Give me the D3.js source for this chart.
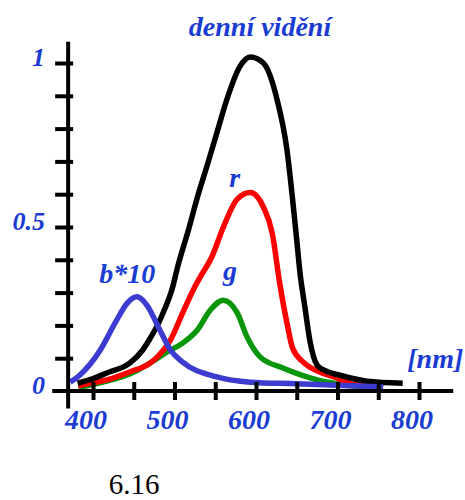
<!DOCTYPE html>
<html>
<head>
<meta charset="utf-8">
<script src="https://cdn.jsdelivr.net/npm/d3@7"></script>
<style>
  body { margin: 0; background: #fff; }
  svg { display: block; }
  .lbl { font-family: "Liberation Serif", "Times New Roman", serif; font-weight: bold; font-style: italic; fill: #1a3cd2; }
  .caption { font-family: "Liberation Serif", "Times New Roman", serif; fill: #000; }
</style>
</head>
<body>
<svg width="465" height="500"></svg>
<script>
// wavelengths [nm] and relative sensitivity
var dayNm  = [381, 400, 417, 445, 461, 470, 479, 488, 497, 504, 517, 528, 541, 553, 564, 580, 593, 609, 626, 638, 645, 650, 654, 660, 666, 675, 685, 703, 736, 780];
var dayVal = [0.024, 0.038, 0.055, 0.085, 0.125, 0.16, 0.2, 0.25, 0.31, 0.38, 0.49, 0.59, 0.695, 0.796, 0.887, 0.988, 1.018, 1.0, 0.887, 0.735, 0.582, 0.46, 0.36, 0.256, 0.155, 0.079, 0.062, 0.048, 0.03, 0.024];

var redNm  = [382, 400, 417, 445, 470, 479, 495, 510, 523, 531, 546, 560, 577, 593, 609, 620, 629, 638, 645, 658, 678, 699, 719, 756];
var redVal = [0.016, 0.025, 0.034, 0.058, 0.085, 0.104, 0.155, 0.238, 0.308, 0.345, 0.41, 0.50, 0.585, 0.605, 0.561, 0.48, 0.33, 0.207, 0.13, 0.088, 0.058, 0.04, 0.02, 0.012];

var greenNm  = [382, 400, 417, 445, 470, 491, 510, 528, 544, 560, 577, 589, 605, 633, 654, 675, 695, 720, 750];
var greenVal = [0.012, 0.02, 0.03, 0.052, 0.085, 0.119, 0.146, 0.186, 0.247, 0.277, 0.238, 0.165, 0.104, 0.07, 0.05, 0.034, 0.024, 0.015, 0.01];

var blueNm  = [372, 384, 409, 429, 442, 454, 466, 482, 495, 510, 552, 593, 650, 756];
var blueVal = [0.027, 0.049, 0.125, 0.216, 0.268, 0.287, 0.262, 0.186, 0.125, 0.088, 0.043, 0.027, 0.022, 0.012];

var xTicks = [400, 450, 500, 550, 600, 650, 700, 750, 800];
var xLabels = [400, 500, 600, 700, 800];
var yTicks = [0.1, 0.2, 0.3, 0.4, 0.5, 0.6, 0.7, 0.8, 0.9, 1];
var yLabels = [{v: 0, t: "0"}, {v: 0.5, t: "0.5"}, {v: 1, t: "1"}];

// drawing order: green, red, black, blue on top
var series = [
  {nm: greenNm, val: greenVal, color: "#0a960a"},
  {nm: redNm,   val: redVal,   color: "#ff0000"},
  {nm: dayNm,   val: dayVal,   color: "#000000"},
  {nm: blueNm,  val: blueVal,  color: "#3c3cd0"}
];

// curve names, placed at (nm, value)
var notes = [
  {t: "r",    nm: 574, v: 0.622},
  {t: "g",    nm: 568, v: 0.338},
  {t: "b*10", nm: 442, v: 0.33},
  {t: "[nm]", nm: 820, v: 0.07}
];

var svg = d3.select("svg");

var x = d3.scaleLinear().domain([400, 800]).range([93, 419]);
var y = d3.scaleLinear().domain([0, 1]).range([391, 63]);

var axisX0 = x(369.5);

// curves
var line = d3.line()
    .x(function(d) { return x(d[0]) })
    .y(function(d) { return y(d[1]) })
    .curve(d3.curveMonotoneX);

svg.append("g")
    .selectAll("path")
    .data(series)
    .enter()
    .append("path")
    .attr("fill", "none")
    .attr("stroke", function(s) { return s.color })
    .attr("stroke-width", 5.5)
    .attr("stroke-linejoin", "round")
    .attr("d", function(s) {
        return line(s.nm.map(function(n, i) { return [n, s.val[i]] }))
    });

// axis lines
svg.append("line")
    .attr("x1", x(350)).attr("x2", x(842))
    .attr("y1", y(0)).attr("y2", y(0))
    .attr("stroke", "black").attr("stroke-width", 4);
svg.append("line")
    .attr("x1", axisX0).attr("x2", axisX0)
    .attr("y1", y(1.065)).attr("y2", y(-0.053))
    .attr("stroke", "black").attr("stroke-width", 4);

// tick marks
var xAxis = d3.axisBottom(x).tickValues(xTicks).tickSize(18).tickFormat("");
var gx = svg.append("g")
    .attr("transform", "translate(0," + (y(0) - 9) + ")")
    .call(xAxis);
gx.select(".domain").remove();
gx.selectAll("line").attr("stroke", "black").attr("stroke-width", 4);

var yAxis = d3.axisLeft(y).tickValues(yTicks).tickSize(18).tickFormat("");
var gy = svg.append("g")
    .attr("transform", "translate(" + (axisX0 + 5) + ",0)")
    .call(yAxis);
gy.select(".domain").remove();
gy.selectAll("line").attr("stroke", "black").attr("stroke-width", 4);

// labels
svg.append("g")
    .selectAll("text")
    .data(xLabels)
    .enter()
    .append("text")
    .classed("lbl", true)
    .attr("font-size", 28)
    .attr("text-anchor", "middle")
    .attr("x", function(d) { return x(d) - 7 })
    .attr("y", 429)
    .text(function(d) { return d });

svg.append("g")
    .selectAll("text")
    .data(yLabels)
    .enter()
    .append("text")
    .classed("lbl", true)
    .attr("font-size", 26)
    .attr("text-anchor", "end")
    .attr("x", 45)
    .attr("y", function(d) { return y(d.v) + 3 })
    .text(function(d) { return d.t });

svg.append("g")
    .selectAll("text")
    .data(notes)
    .enter()
    .append("text")
    .classed("lbl", true)
    .attr("font-size", 28)
    .attr("text-anchor", "middle")
    .attr("x", function(d) { return x(d.nm) })
    .attr("y", function(d) { return y(d.v) })
    .text(function(d) { return d.t });

svg.append("text")
    .classed("lbl", true)
    .attr("font-size", 28)
    .attr("text-anchor", "middle")
    .attr("x", 260)
    .attr("y", 36)
    .text("denní vidění");

svg.append("text")
    .classed("caption", true)
    .attr("font-size", 29)
    .attr("text-anchor", "middle")
    .attr("x", 134)
    .attr("y", 494)
    .text("6.16");
</script>
</body>
</html>
